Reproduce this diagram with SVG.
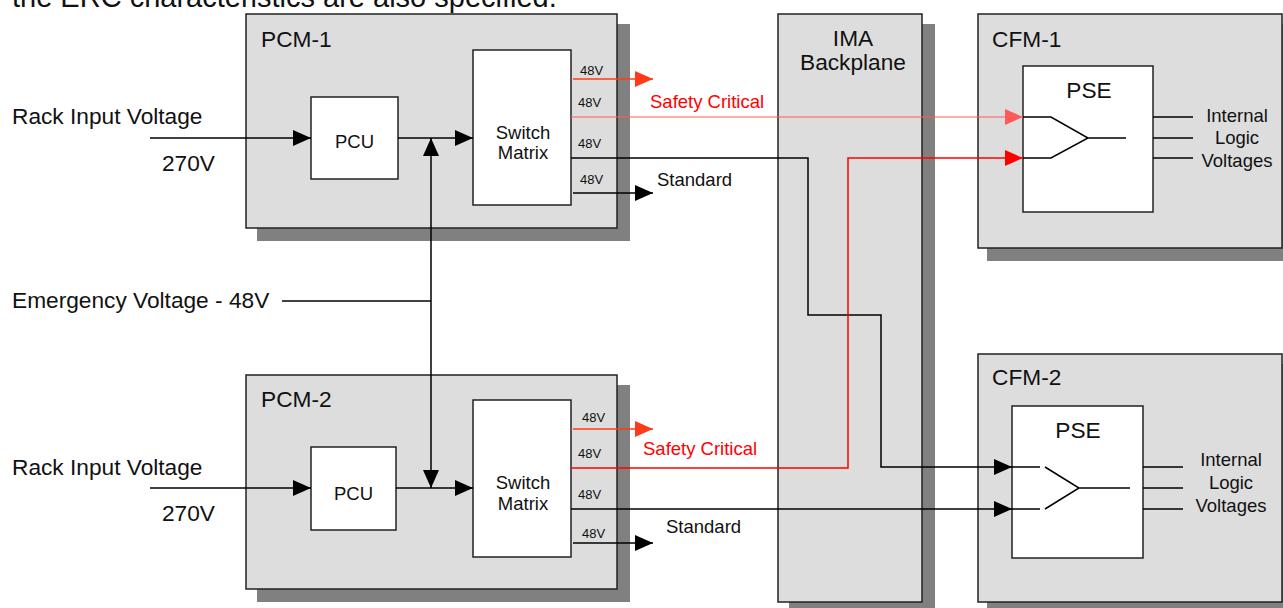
<svg xmlns="http://www.w3.org/2000/svg" width="1283" height="608" viewBox="0 0 1283 608">
<style>
text{font-family:"Liberation Sans",Arial,sans-serif;fill:#111}
.shadow{fill:#808080}
.box{fill:#dddddd;stroke:#222;stroke-width:1.5}
.inner{fill:#ffffff;stroke:#222;stroke-width:1.5}
.lbl{font-size:22.7px}
.mid{font-size:18.5px;text-anchor:middle}
.v{font-size:13px}
.ln{fill:none;stroke:#000;stroke-width:1.5}
.red{fill:#ff0000}
</style>
<defs>
<marker id="ab" markerUnits="userSpaceOnUse" markerWidth="18" markerHeight="16" refX="18" refY="8" orient="auto"><path d="M0,0 L18,8 L0,16 z" fill="#000"/></marker>
<marker id="ar" markerUnits="userSpaceOnUse" markerWidth="18" markerHeight="16" refX="18" refY="8" orient="auto"><path d="M0,0 L18,8 L0,16 z" fill="#ff0000"/></marker>
<marker id="ao" markerUnits="userSpaceOnUse" markerWidth="18" markerHeight="16" refX="18" refY="8" orient="auto"><path d="M0,0 L18,8 L0,16 z" fill="#ff3a1a"/></marker>
<marker id="al" markerUnits="userSpaceOnUse" markerWidth="18" markerHeight="16" refX="18" refY="8" orient="auto"><path d="M0,0 L18,8 L0,16 z" fill="#ff5a5a"/></marker>
</defs>
<rect width="1283" height="608" fill="#ffffff"/>
<text x="12" y="7" style="font-size:29px">the ERC characteristics are also specified.</text>

<g id="labels-left">
<text class="lbl" x="12" y="124">Rack Input Voltage</text>
<text class="lbl" x="162" y="171">270V</text>
<text class="lbl" x="12" y="308">Emergency Voltage - 48V</text>
<text class="lbl" x="12" y="475">Rack Input Voltage</text>
<text class="lbl" x="162" y="521">270V</text>
</g>

<g id="pcm1">
<rect class="shadow" x="257" y="24" width="373" height="217"/>
<rect class="box" x="246" y="14" width="371" height="214"/>
<text class="lbl" x="261" y="47">PCM-1</text>
<g id="pcu1"><rect class="inner" x="311" y="97" width="87" height="82"/><text class="mid" x="354.5" y="148">PCU</text></g>
<g id="sm1"><rect class="inner" x="473" y="50" width="98" height="155"/><text class="mid" x="523" y="139">Switch</text><text class="mid" x="523" y="159">Matrix</text></g>
<text class="v" x="580" y="75">48V</text>
<text class="v" x="578" y="107">48V</text>
<text class="v" x="578" y="148">48V</text>
<text class="v" x="580" y="184">48V</text>
</g>

<g id="pcm2">
<rect class="shadow" x="257" y="385" width="373" height="217"/>
<rect class="box" x="246" y="375" width="371" height="214"/>
<text class="lbl" x="261" y="407">PCM-2</text>
<g id="pcu2"><rect class="inner" x="311" y="447" width="85" height="83"/><text class="mid" x="353.5" y="500">PCU</text></g>
<g id="sm2"><rect class="inner" x="473" y="400" width="98" height="157"/><text class="mid" x="523" y="489">Switch</text><text class="mid" x="523" y="510">Matrix</text></g>
<text class="v" x="582" y="422">48V</text>
<text class="v" x="578" y="458">48V</text>
<text class="v" x="578" y="499">48V</text>
<text class="v" x="582" y="538">48V</text>
</g>

<g id="ima">
<rect class="shadow" x="789" y="24" width="146" height="590"/>
<rect class="box" x="778" y="14" width="144" height="588"/>
<text class="lbl" x="853" y="46" text-anchor="middle">IMA</text>
<text class="lbl" x="853" y="70" text-anchor="middle">Backplane</text>
</g>

<g id="cfm1">
<rect class="shadow" x="987" y="24" width="310" height="237"/>
<rect class="box" x="978" y="14" width="304" height="234"/>
<text class="lbl" x="992" y="47">CFM-1</text>
<rect class="inner" x="1023" y="66" width="130" height="146"/>
<text class="lbl" x="1089" y="98" text-anchor="middle">PSE</text>
<path class="ln" d="M1023,117 H1051 L1088,138 L1051,158 H1023 M1088,138 H1126 M1153,117 H1193 M1153,138 H1193 M1153,158 H1193"/>
<text class="mid" x="1237" y="122">Internal</text>
<text class="mid" x="1237" y="144">Logic</text>
<text class="mid" x="1237" y="167">Voltages</text>
</g>

<g id="cfm2">
<rect class="shadow" x="987" y="364" width="310" height="250"/>
<rect class="box" x="978" y="354" width="304" height="248"/>
<text class="lbl" x="992" y="385">CFM-2</text>
<rect class="inner" x="1012" y="406" width="131" height="152"/>
<text class="lbl" x="1078" y="438" text-anchor="middle">PSE</text>
<path class="ln" d="M1012,467 H1040 M1045,467 L1079,488 L1045,509 M1012,509 H1040 M1079,488 H1130 M1143,467 H1183 M1143,488 H1183 M1143,509 H1183"/>
<text class="mid" x="1231" y="466">Internal</text>
<text class="mid" x="1231" y="489">Logic</text>
<text class="mid" x="1231" y="512">Voltages</text>
</g>

<g id="connectors">
<path class="ln" d="M150,138 H311" marker-end="url(#ab)"/>
<path class="ln" d="M398,138 H473" marker-end="url(#ab)"/>
<path class="ln" d="M150,488 H311" marker-end="url(#ab)"/>
<path class="ln" d="M396,488 H473" marker-end="url(#ab)"/>
<path class="ln" d="M282,301 H431"/>
<path class="ln" d="M431,301 V138" marker-end="url(#ab)"/>
<path class="ln" d="M431,301 V488" marker-end="url(#ab)"/>
<path class="ln" d="M573,79 H653" style="stroke:#ff3a1a" marker-end="url(#ao)"/>
<path class="ln" d="M571,117 H1023" style="stroke:#ff5a5a;stroke-width:1.2" marker-end="url(#al)"/>
<path class="ln" d="M571,158 H808 V315 H881 V467 H1012" marker-end="url(#ab)"/>
<path class="ln" d="M573,193 H653" marker-end="url(#ab)"/>
<path class="ln" d="M573,429 H653" style="stroke:#ff3a1a" marker-end="url(#ao)"/>
<path class="ln" d="M571,468 H848 V158 H1023" style="stroke:#ff0000" marker-end="url(#ar)"/>
<path class="ln" d="M571,509 H1012" marker-end="url(#ab)"/>
<path class="ln" d="M573,543 H653" marker-end="url(#ab)"/>
<text class="red" x="650" y="108" style="font-size:18.5px">Safety Critical</text>
<text x="657" y="186" style="font-size:18.5px">Standard</text>
<text class="red" x="643" y="455" style="font-size:18.5px">Safety Critical</text>
<text x="666" y="533" style="font-size:18.5px">Standard</text>
</g>
</svg>
